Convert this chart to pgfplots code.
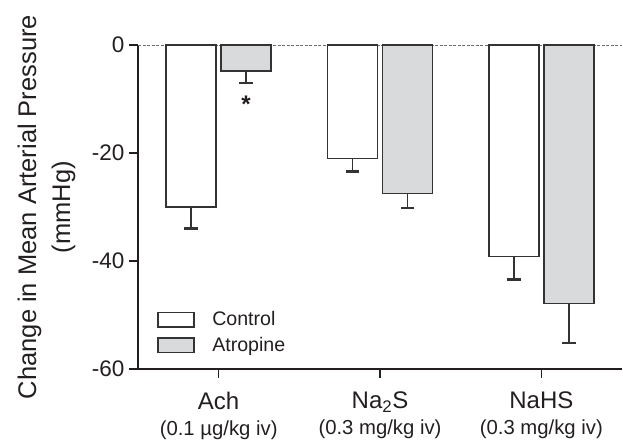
\documentclass[border=0pt]{standalone}
\usepackage{fontspec}
\setmainfont{Liberation Sans}
\usepackage{pgfplots}
\pgfplotsset{compat=1.18}

\definecolor{ink}{HTML}{231F20}
\definecolor{barfill}{HTML}{D9DADB}
\definecolor{baredge}{HTML}{333333}

\pgfplotsset{
  boxlegend/.style={legend image code/.code={%
    \draw[##1] (0pt,-7.5pt) rectangle (36pt,7pt); \path (51.5pt,0pt);}},
  sembars/.style={error bars/.cd, y dir=minus, y explicit,
    error bar style={line width=1.5pt, baredge},
    error mark options={rotate=90, mark size=6.8pt, line width=2.5pt, baredge}},
}

\begin{document}
\begin{tikzpicture}[x=1pt,y=1pt]
\useasboundingbox (0,0) rectangle (623,441);
\begin{axis}[
  at={(138pt,72pt)}, anchor=south west,
  scale only axis, width=484pt, height=324pt,
  xmin=-0.5, xmax=2.5, ymin=-60, ymax=0,
  clip=false,
  axis lines=left, axis line style={-, ink, line width=1.5pt},
  tick align=outside, major tick length=8.5pt,
  tick style={ink, line width=1.5pt},
  xtick={0,1,2},
  xticklabels={
    {Ach\\{\fontsize{20.3}{24}\selectfont (0.1 µg/kg iv)}},
    {Na\textsubscript{2}S\\{\fontsize{20.3}{24}\selectfont (0.3 mg/kg iv)}},
    {NaHS\\{\fontsize{20.3}{24}\selectfont (0.3 mg/kg iv)}}},
  xticklabel style={align=center, text=ink, font=\fontsize{24}{25.5}\selectfont,
    inner sep=6.5pt, yshift=-8pt},
  ytick={-60,-40,-20,0},
  yticklabel style={text=ink, font=\fontsize{22.5}{26}\selectfont, inner sep=5pt},
  /pgf/number format/assume math mode=true,
  ylabel={Change in Mean Arterial Pressure\\(mmHg)},
  ylabel style={align=center, text=ink, font=\fontsize{25.5}{34}\selectfont,
    at={(axis description cs:-0.189,0.5)}, anchor=center},
  ybar=5pt, bar width=50pt,
  legend style={at={(axis description cs:0.033,0.19)}, anchor=north west,
    draw=none, fill=none, font=\fontsize{19.6}{22}\selectfont, text=ink,
    row sep=6pt, nodes={inner sep=2pt}},
  legend cell align=left,
]
% zero reference line
\draw[dash pattern=on 3pt off 1.5pt, gray!85!black, line width=0.9pt]
  (axis cs:-0.5,0) -- (axis cs:2.5,0);

\addplot[draw=baredge, fill=white, line width=1.6pt, boxlegend, sembars]
  coordinates {(0,-30.0) -= (0,4.0) (1,-21.0) -= (1,2.4) (2,-39.2) -= (2,4.2)};
\addlegendentry{Control}

\addplot[draw=baredge, fill=barfill, line width=1.6pt, boxlegend, sembars]
  coordinates {(0,-4.8) -= (0,2.2) (1,-27.5) -= (1,2.7) (2,-47.9) -= (2,7.3)};
\addlegendentry{Atropine}

% significance marker
\node[text=ink, font=\fontsize{24}{24}\selectfont\bfseries] at (axis cs:0.17,-11) {*};
\end{axis}
\end{tikzpicture}
\end{document}
